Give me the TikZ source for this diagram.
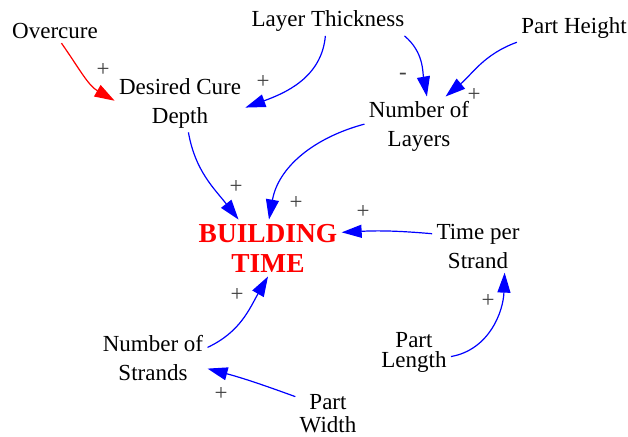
\documentclass[tikz,border=0pt]{standalone}
\usepackage{fontspec}
\setmainfont{Liberation Serif}
\usetikzlibrary{arrows.meta}
\tikzset{
    >={Triangle[length=10pt,width=6.5pt]},
    var/.style={align=center,inner sep=2pt,font=\fontsize{11.5}{14.5}\selectfont},
    goal/.style={align=center,inner sep=2pt,text=red,font=\fontsize{13.7}{15}\selectfont\bfseries},
    link/.style={->,draw=blue,line width=0.6pt},
    sign/.style={inner sep=0pt,text=black!75,font=\fontsize{11.5}{14}\selectfont},
}

\begin{document}
\begin{tikzpicture}[x=0.5pt,y=-0.5pt]
    \useasboundingbox (0,0) rectangle (628,436);

    % variables
    \node[var]  (oc)  at (55, 31)   {Overcure};
    \node[var]  (lt)  at (328, 21)  {Layer Thickness};
    \node[var]  (ph)  at (574, 28)  {Part Height};
    \node[var]  (dcd) at (180, 103) {Desired Cure\\Depth};
    \node[var]  (nol) at (419, 126) {Number of\\Layers};
    \node[goal] (bt)  at (268, 248) {BUILDING\\TIME};
    \node[var]  (tps) at (478, 246) {Time per\\Strand};
    \node[var]  (nos) at (153, 358) {Number of\\Strands};
    \node[var]  (pl)  at (414, 352) {Part\\[-4.5pt]Length};
    \node[var]  (pw)  at (328, 414) {Part\\[-3pt]Width};

    % links
    \draw[link,draw=red] (oc.-62) to[out=-55,in=150] (dcd.178);
    \draw[link] (lt.-100) to[out=-95,in=20]  (dcd.-4);
    \draw[link] (lt.-11)  to[out=-40,in=100] (nol.75);
    \draw[link] (ph.-166) to[out=200,in=40]  (nol.48);
    \draw[link] (dcd.-74) to[out=-80,in=128] (bt.136);
    \draw[link] (nol.178) to[out=195,in=80]  (bt.88);
    \draw[link] (tps.165) to[out=175,in=3]   (bt.12);
    \draw[link] (nos.11)  to[out=25,in=-120] (bt.-90);
    \draw[link] (pw.152)  to[out=160,in=-15] (nos.-11);
    \draw[link] (pl.-7)   to[out=10,in=-92]  (tps.-45);

    % polarities
    \node[sign] (s1)  at (103, 70)  {+};
    \node[sign] (s2)  at (263, 82)  {+};
    \node[sign] (s3)  at (403, 76)  {-};
    \node[sign] (s4)  at (474, 95)  {+};
    \node[sign] (s5)  at (236, 187) {+};
    \node[sign] (s6)  at (296, 203) {+};
    \node[sign] (s7)  at (363, 212) {+};
    \node[sign] (s8)  at (237, 295) {+};
    \node[sign] (s9)  at (221, 394) {+};
    \node[sign] (s10) at (488, 301) {+};
\end{tikzpicture}
\end{document}
